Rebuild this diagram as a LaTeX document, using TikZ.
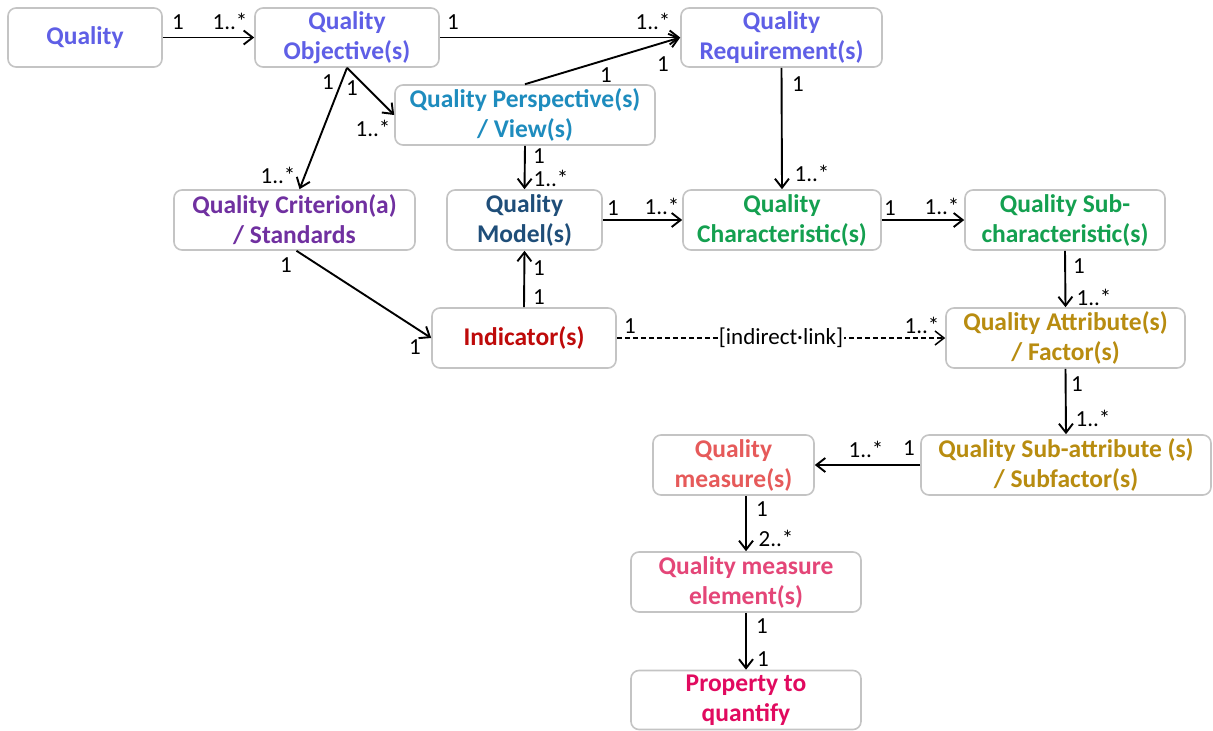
\documentclass[tikz,border=0pt]{standalone}
\usepackage{fontspec}
\setmainfont{Carlito}
\usetikzlibrary{arrows.meta}
\definecolor{boxgray}{RGB}{196,196,196}
\definecolor{cq}{RGB}{95,95,230}
\definecolor{cpersp}{RGB}{30,140,190}
\definecolor{ccrit}{RGB}{112,48,160}
\definecolor{cmodel}{RGB}{31,78,121}
\definecolor{cchar}{RGB}{20,160,80}
\definecolor{cind}{RGB}{190,10,10}
\definecolor{cattr}{RGB}{184,140,16}
\definecolor{cmeas}{RGB}{230,90,90}
\definecolor{celem}{RGB}{228,70,120}
\definecolor{cprop}{RGB}{225,10,95}
\begin{document}
\begin{tikzpicture}[x=1pt,y=-1pt,
  box/.style={draw=boxgray, line width=1.6pt, rounded corners=8pt, fill=white,
    align=center, inner sep=0pt, font=\bfseries\fontsize{25.5}{30}\selectfont},
  lbl/.style={font=\fontsize{23}{23}\selectfont, inner sep=0pt},
  arr/.style={line width=1.9pt, -{Straight Barb[length=9pt,width=14pt,line width=1.9pt]}},
  darr/.style={line width=1.5pt, dash pattern=on 5pt off 3pt,
    -{Straight Barb[length=9pt,width=14pt,line width=1.5pt]}},
]
\useasboundingbox (0,0) rectangle (1213,731);

% boxes
\node[box, minimum width=154pt, minimum height=59pt, text=cq] (q) at (85,37.5) {Quality};
\node[box, minimum width=184pt, minimum height=59pt, text=cq] (obj) at (347,37.5) {Quality\\Objective(s)};
\node[box, minimum width=201pt, minimum height=59pt, text=cq] (req) at (781.5,37.5) {Quality\\Requirement(s)};
\node[box, minimum width=260pt, minimum height=60pt, text=cpersp] (persp) at (525,115) {Quality Perspective(s)\\/ View(s)};
\node[box, minimum width=241pt, minimum height=60pt, text=ccrit] (crit) at (294.5,220) {Quality Criterion(a)\\/ Standards};
\node[box, minimum width=155pt, minimum height=60pt, text=cmodel] (model) at (524.5,220) {Quality\\Model(s)};
\node[box, minimum width=198pt, minimum height=60pt, text=cchar] (char) at (782,220) {Quality\\Characteristic(s)};
\node[box, minimum width=200pt, minimum height=60pt, text=cchar] (sub) at (1065,220) {Quality Sub-\\characteristic(s)};
\node[box, minimum width=184pt, minimum height=60pt, text=cind] (ind) at (524,338) {Indicator(s)};
\node[box, minimum width=239pt, minimum height=60pt, text=cattr] (attr) at (1065.5,338) {Quality Attribute(s)\\/ Factor(s)};
\node[box, minimum width=161pt, minimum height=60pt, text=cmeas] (meas) at (733.5,465) {Quality\\measure(s)};
\node[box, minimum width=290pt, minimum height=60pt, text=cattr] (subattr) at (1066,465) {Quality Sub-attribute (s)\\/ Subfactor(s)};
\node[box, minimum width=230pt, minimum height=60pt, text=celem] (elem) at (746,582) {Quality measure\\element(s)};
\node[box, minimum width=230pt, minimum height=59pt, text=cprop] (prop) at (746,700) {Property to\\quantify};

% connectors
\draw[arr] (q.east) -- (obj.west);
\draw[arr] (obj.east) -- (req.west);
\draw[arr] (persp.north) -- (req.west);
\draw[arr] (obj.south) -- (persp.west);
\draw[arr] (obj.south) -- ([xshift=5pt]crit.north);
\draw[arr] (persp.south) -- (model.north);
\draw[arr] ([xshift=2pt]crit.south) -- (ind.west);
\draw[arr] (ind.north) -- (model.south);
\draw[arr] (model.east) -- (char.west);
\draw[arr] (char.east) -- (sub.west);
\draw[arr] (req.south) -- (char.north);
\draw[arr] (sub.south) -- (attr.north);
\draw[darr] (ind.east) -- node[lbl, fill=white, inner xsep=1pt, inner ysep=2pt] (il) {[indirect·link]} (attr.west);
\draw[arr] (attr.south) -- (subattr.north);
\draw[arr] (subattr.west) -- (meas.east);
\draw[arr] (elem.north |- meas.south) -- (elem.north);
\draw[arr] (elem.south) -- (prop.north);

% multiplicities
\node[lbl] (m1) at (178,22) {1};
\node[lbl] (m2) at (230,21) {1..*};
\node[lbl] (m3) at (453,22) {1};
\node[lbl] (m4) at (653,21) {1..*};
\node[lbl] (m5) at (663,64) {1};
\node[lbl] (m6) at (606,75) {1};
\node[lbl] (m7) at (328,82) {1};
\node[lbl] (m8) at (352,88) {1};
\node[lbl] (m9) at (373,128) {1..*};
\node[lbl] (m10) at (278,175) {1..*};
\node[lbl] (m11) at (539,156) {1};
\node[lbl] (m12) at (551,178) {1..*};
\node[lbl] (m13) at (798,84) {1};
\node[lbl] (m14) at (812,173) {1..*};
\node[lbl] (m15) at (286,265) {1};
\node[lbl] (m16) at (415,347) {1};
\node[lbl] (m17) at (539,268) {1};
\node[lbl] (m18) at (539,297) {1};
\node[lbl] (m19) at (613,208) {1};
\node[lbl] (m20) at (662,206) {1..*};
\node[lbl] (m21) at (890,208) {1};
\node[lbl] (m22) at (942,206) {1..*};
\node[lbl] (m23) at (1079,266) {1};
\node[lbl] (m24) at (1094,297) {1..*};
\node[lbl] (m25) at (630,326) {1};
\node[lbl] (m26) at (922,325) {1..*};
\node[lbl] (m27) at (1077,384) {1};
\node[lbl] (m28) at (1093,418) {1..*};
\node[lbl] (m29) at (866,449) {1..*};
\node[lbl] (m30) at (909,448) {1};
\node[lbl] (m31) at (762,509) {1};
\node[lbl] (m32) at (776,538) {2..*};
\node[lbl] (m33) at (762,626) {1};
\node[lbl] (m34) at (763,659) {1};
\end{tikzpicture}
\end{document}
